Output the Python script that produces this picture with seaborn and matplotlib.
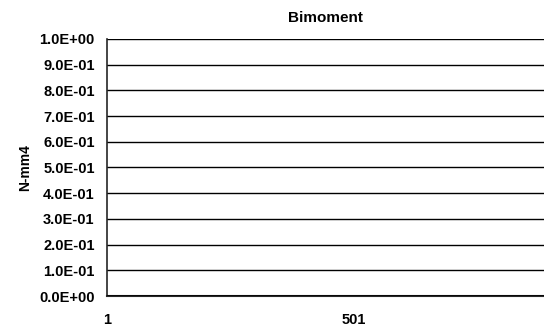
import numpy as np
import pandas as pd
import matplotlib
matplotlib.use("Agg")
import matplotlib.pyplot as plt
import seaborn as sns

# data: bimoment along the member (all zero)
node = [1, 251, 501, 751, 1001]
bimoment = [0.0, 0.0, 0.0, 0.0, 0.0]
y_ticks = [0.0, 0.1, 0.2, 0.3, 0.4, 0.5, 0.6, 0.7, 0.8, 0.9, 1.0]
x_ticks = [1, 251, 501, 751]
x_labels = ["1", "", "501", ""]

df = pd.DataFrame({"node": node, "bimoment": bimoment})

sns.set_style("white")
plt.rcParams["font.family"] = ["Liberation Sans", "DejaVu Sans"]
plt.rcParams["font.weight"] = "bold"
plt.rcParams["text.color"] = "black"
plt.rcParams["axes.labelcolor"] = "black"
plt.rcParams["xtick.color"] = "black"
plt.rcParams["ytick.color"] = "black"

fig = plt.figure(figsize=(5.44, 3.30), dpi=100)
ax = fig.add_axes([0.197, 0.103, 0.803, 0.779])

for yv in y_ticks:
    ax.axhline(yv, color="black", linewidth=1.0, zorder=1)

sns.lineplot(data=df, x="node", y="bimoment", ax=ax, color="black", linewidth=1.8, zorder=3)

ax.set_xlim(1, 886)
ax.set_ylim(0, 1.0)
ax.set_yticks(y_ticks)
ax.set_yticklabels([f"{v:.1E}" for v in y_ticks], fontweight="bold")
ax.set_xticks(x_ticks)
ax.set_xticklabels(x_labels, fontweight="bold")

ax.tick_params(axis="y", direction="inout", length=8, width=1, labelsize=10.5, pad=5)
ax.tick_params(axis="x", direction="out", length=4, width=1, labelsize=10.5, pad=8)

for s in ["top", "right"]:
    ax.spines[s].set_visible(False)
ax.spines["left"].set_linewidth(1.2)
ax.spines["bottom"].set_linewidth(1.5)

ax.set_title("Bimoment", fontsize=11, fontweight="bold", pad=12)
ax.set_xlabel("")
ax.set_ylabel("N-mm4", fontsize=10, fontweight="bold", labelpad=5)

fig.savefig("out.png", dpi=100)
